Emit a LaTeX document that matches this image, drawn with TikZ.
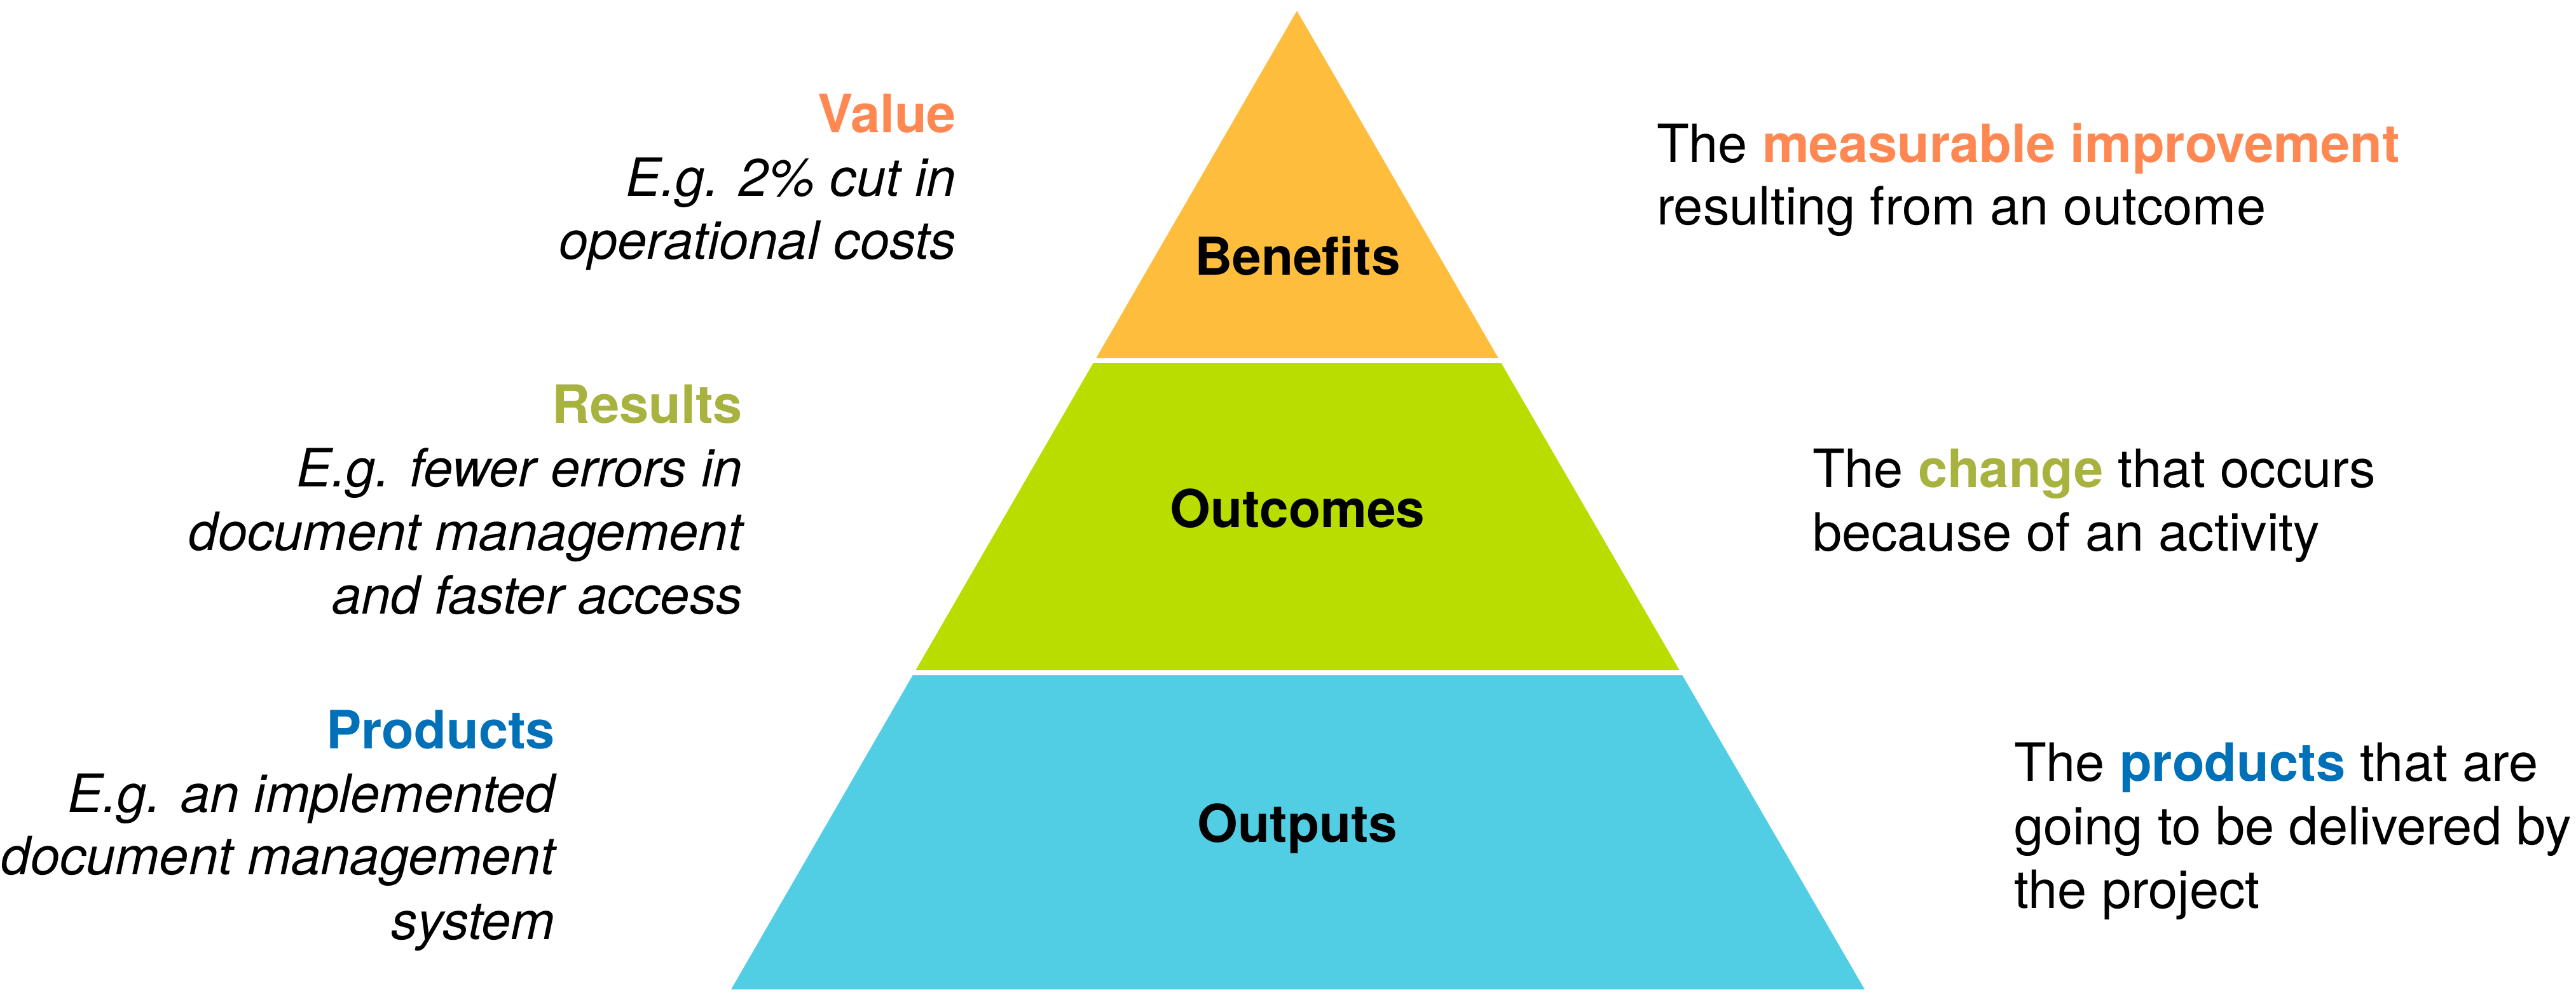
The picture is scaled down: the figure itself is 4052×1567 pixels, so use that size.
\documentclass[tikz,border=0pt]{standalone}
\usepackage{fontspec}
\setmainfont{TeX Gyre Heros}
\definecolor{bandO}{RGB}{255,189,61}
\definecolor{bandG}{RGB}{186,221,0}
\definecolor{bandB}{RGB}{82,206,228}
\definecolor{valc}{RGB}{255,135,81}
\definecolor{resc}{RGB}{167,178,63}
\definecolor{proc}{RGB}{0,112,184}
\begin{document}
\begin{tikzpicture}[x=1pt,y=-1pt,
  txt/.style={inner sep=0pt, outer sep=0pt, font=\fontsize{83}{100}\selectfont},
  head/.style={txt, font=\fontsize{83}{100}\selectfont\bfseries, anchor=base east},
  ex/.style={txt, font=\fontsize{83}{100}\selectfont\itshape, anchor=base east},
  desc/.style={txt, anchor=base west},
  layer/.style={txt, font=\fontsize{82}{100}\selectfont\bfseries, anchor=base}]
\useasboundingbox (0,0) rectangle (4052,1567);
% pyramid bands
\fill[bandO] (2040,17) -- (2356.8,563) -- (1724.3,563) -- cycle;
\fill[bandG] (1719.6,571) -- (2361.4,571) -- (2641.7,1054) -- (1440.3,1054) -- cycle;
\fill[bandB] (1435.7,1062) -- (2646.3,1062) -- (2933,1556) -- (1150,1556) -- cycle;
% layer labels
\node[layer] (benefits) at (2041,432) {Benefits};
\node[layer] (outcomes) at (2041,829) {Outcomes};
\node[layer] (outputs) at (2041,1324) {Outputs};
% left labels
\node[head, text=valc] (valueT) at (1504,208) {Value};
\node[ex] (value1) at (1504,308) {E.g. 2\% cut in};
\node[ex] (value2) at (1504,407) {operational costs};
\node[head, text=resc] (resultsT) at (1168,665) {Results};
\node[ex] (results1) at (1168,765) {E.g. fewer errors in};
\node[ex] (results2) at (1168,865) {document management};
\node[ex] (results3) at (1168,965) {and faster access};
\node[head, text=proc] (productsT) at (873,1177) {Products};
\node[ex] (products1) at (873,1277) {E.g. an implemented};
\node[ex] (products2) at (873,1375) {document management};
\node[ex] (products3) at (873,1477) {system};
% right labels
\node[desc] (benD1) at (2606,255) {The \textbf{\color{valc}measurable improvement}};
\node[desc] (benD2) at (2606,353) {resulting from an outcome};
\node[desc] (outcD1) at (2851,766) {The \textbf{\color{resc}change} that occurs};
\node[desc] (outcD2) at (2851,866) {because of an activity};
\node[desc] (outpD1) at (3168,1228) {The \textbf{\color{proc}products} that are};
\node[desc] (outpD2) at (3168,1328) {going to be delivered by};
\node[desc] (outpD3) at (3168,1428) {the project};
\end{tikzpicture}
\end{document}
